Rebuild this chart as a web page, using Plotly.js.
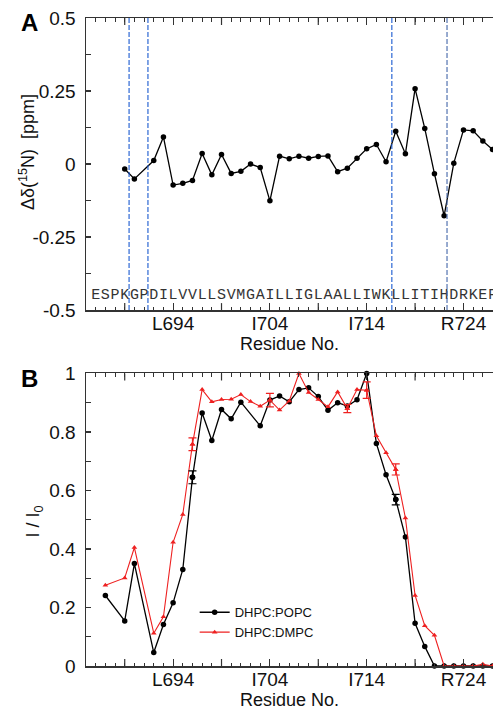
<!DOCTYPE html>
<html>
<head>
<meta charset="utf-8">
<script src="https://cdn.plot.ly/plotly-3.0.1.min.js"></script>
<style>
html,body{margin:0;padding:0;background:#fff;overflow:hidden;}
#chart{width:493px;height:713px;}
</style>
</head>
<body>
<div id="chart"></div>
<script>
// ---------- Panel A: chemical shift perturbation ----------
const residuesA = [689,690,692,693,694,695,696,697,698,699,700,701,702,703,704,705,706,707,708,709,710,711,712,713,714,715,716,717,718,719,720,721,722,723,724,725,726,727];
const deltaN15 = [-0.017,-0.051,0.012,0.093,-0.072,-0.066,-0.056,0.036,-0.037,0.033,-0.032,-0.025,0.0,-0.012,-0.126,0.027,0.018,0.027,0.020,0.026,0.028,-0.026,-0.014,0.020,0.052,0.067,0.008,0.112,0.035,0.258,0.122,-0.033,-0.177,0.003,0.117,0.114,0.079,0.050];

// sequence shown along the bottom of panel A
const seqStart = 686;
const sequence = "ESPKGPDILVVLLSVMGAILLIGLAALLIWKLLITIHDRKEF".split("");
const seqResidues = sequence.map((_, i) => seqStart + i);

// boundaries marked with dashed lines
const boundaries = [689.45, 691.4, 716.6, 722.3];
const boundaryColors = ["#1a5ad0", "#1a5ad0", "#1a5ad0", "#4466aa"];

// ---------- Panel B: intensity ratios ----------
const residuesPOPC = [687,689,690,692,693,694,695,696,697,698,699,700,701,703,704,705,706,707,708,709,710,711,712,713,714,715,716,717,718,719,720,721,722,723,724,725,726,727];
const ratioPOPC = [0.241,0.154,0.350,0.046,0.142,0.216,0.330,0.645,0.865,0.771,0.877,0.845,0.902,0.821,0.909,0.923,0.903,0.945,0.951,0.921,0.874,0.900,0.889,0.910,1.0,0.761,0.654,0.569,0.441,0.146,0.067,0,0,0,0,0,0,0];

const residuesDMPC = [687,689,690,692,693,694,695,696,697,698,699,700,701,702,703,704,705,706,707,708,709,710,711,712,713,714,715,716,717,718,719,720,721,722,723,724,725,726,727];
const ratioDMPC = [0.276,0.301,0.405,0.112,0.168,0.423,0.518,0.758,0.945,0.903,0.911,0.912,0.928,0.904,0.888,0.909,0.875,0.906,1.0,0.935,0.911,0.886,0.937,0.880,0.945,0.943,0.787,0.729,0.672,0.506,0.241,0.138,0.105,0,0,0,0,0.006,0];

// error bars (only measured at a few residues)
const errResPOPC = [696,717];
const errValPOPC = [0.645,0.569];
const errPOPC = [0.022,0.018];
const errResDMPC = [696,704,712,714,717];
const errValDMPC = [0.758,0.909,0.880,0.943,0.672];
const errDMPC = [0.022,0.023,0.014,0.028,0.019];

// tick labels
const xTickVals = [694,704,714,724];
const xTickText = ["L694","I704","I714","R724"];
const xUnlabelledMajor = [689,699,709,719];
const yTickValsA = [-0.5,-0.25,0,0.25,0.5];
const yTickTextA = ["-0.5","-0.25","0","0.25","0.5"];
const yTickValsB = [0,0.2,0.4,0.6,0.8,1];
const yTickTextB = ["0","0.2","0.4","0.6","0.8","1"];

const RED = "#ee2020";
const FONT = "Liberation Sans, Arial, Helvetica, sans-serif";
const TICKCOL = "#333";

const traces = [
  {x: residuesA, y: deltaN15, xaxis:"x2", yaxis:"y2", mode:"lines+markers",
   line:{color:"#000", width:1.3}, marker:{color:"#000", size:5.5, symbol:"circle"},
   showlegend:false, cliponaxis:false},
  {x: seqResidues, y: sequence.map(() => -0.45), text: sequence, xaxis:"x2", yaxis:"y2",
   mode:"text", textposition:"middle center",
   textfont:{family:"Liberation Mono, Courier New, monospace", size:15, color:"#333"},
   showlegend:false, cliponaxis:false, hoverinfo:"skip"},
  {x: residuesPOPC, y: ratioPOPC, mode:"lines+markers", name:"DHPC:POPC",
   line:{color:"#000", width:1.3}, marker:{color:"#000", size:5.5, symbol:"circle"},
   cliponaxis:false},
  {x: residuesDMPC, y: ratioDMPC, mode:"lines+markers", name:"DHPC:DMPC",
   line:{color:RED, width:1.1}, marker:{color:RED, size:5, symbol:"triangle-up"},
   cliponaxis:false},
  {x: errResPOPC, y: errValPOPC, mode:"markers", showlegend:false,
   marker:{color:"#000", size:5.5, symbol:"circle"},
   error_y:{type:"data", array:errPOPC, visible:true, color:"#000", thickness:1.2, width:4}},
  {x: errResDMPC, y: errValDMPC, mode:"markers", showlegend:false,
   marker:{color:RED, size:5, symbol:"triangle-up"},
   error_y:{type:"data", array:errDMPC, visible:true, color:RED, thickness:1.2, width:4}}
];

const xCommon = {
  range:[685, 727.05], tickmode:"array", tickvals:xTickVals, ticktext:xTickText,
  ticks:"inside", ticklen:7, tickwidth:1.2, tickcolor:TICKCOL,
  minor:{tickmode:"linear", tick0:0, dtick:1, ticks:"inside", ticklen:3.5, tickwidth:1, tickcolor:TICKCOL},
  showline:true, linecolor:TICKCOL, linewidth:1.5, mirror:"allticks",
  showgrid:false, zeroline:false, fixedrange:true,
  ticklabelstandoff:-4,
  tickfont:{family:FONT, size:19, color:"#111"},
  title:{text:"Residue No.", font:{family:FONT, size:18, color:"#111"}, standoff:4}
};
const yCommon = {
  ticks:"inside", ticklen:5, tickwidth:1.2, tickcolor:TICKCOL,
  showline:true, linecolor:TICKCOL, linewidth:1.5, mirror:false,
  showgrid:false, zeroline:false, fixedrange:true, tickmode:"array",
  ticklabelstandoff:5,
  tickfont:{family:FONT, size:19, color:"#111"}
};

// long unlabelled ticks every 5 residues (bottom and top of each panel)
const majorTickShapes = [];
[["x","y domain"],["x2","y2 domain"]].forEach(([xr, yr]) => {
  xUnlabelledMajor.forEach(v => {
    majorTickShapes.push({type:"line", xref:xr, yref:yr, x0:v, x1:v, ysizemode:"pixel", yanchor:0, y0:0, y1:7,
      line:{color:TICKCOL, width:1.2}});
    majorTickShapes.push({type:"line", xref:xr, yref:yr, x0:v, x1:v, ysizemode:"pixel", yanchor:1, y0:-7, y1:0,
      line:{color:TICKCOL, width:1.2}});
  });
});

const layout = {
  width:493, height:713,
  margin:{l:86, r:0, t:18, b:47.3},
  paper_bgcolor:"#fff", plot_bgcolor:"#fff",
  showlegend:true,
  legend:{x:0.267, y:0.106, xanchor:"left", yanchor:"top", bgcolor:"rgba(0,0,0,0)",
          font:{family:FONT, size:13, color:"#111"}, tracegroupgap:0},
  xaxis: Object.assign({}, xCommon, {anchor:"y"}),
  xaxis2: Object.assign({}, xCommon, {anchor:"y2"}),
  yaxis: Object.assign({}, yCommon, {domain:[0,0.4514], range:[0,1], anchor:"x",
     tickvals:yTickValsB, ticktext:yTickTextB,
     minor:{tickmode:"linear", tick0:0, dtick:0.1, ticks:"inside", ticklen:5, tickwidth:1, tickcolor:TICKCOL}}),
  yaxis2: Object.assign({}, yCommon, {domain:[0.5492,1], range:[-0.5,0.5], anchor:"x2",
     tickvals:yTickValsA, ticktext:yTickTextA,
     minor:{tickmode:"linear", tick0:0, dtick:0.125, ticks:"inside", ticklen:5, tickwidth:1, tickcolor:TICKCOL}}),
  shapes: boundaries.map((b, i) => ({type:"line", xref:"x2", yref:"y2 domain", x0:b, x1:b, y0:0, y1:1,
     line:{color:boundaryColors[i], width:1.1, dash:"5px,2px"}})).concat(majorTickShapes),
  annotations:[
    {text:"<b>A</b>", xref:"paper", yref:"paper", x:-0.1376, y:0.9923, xanchor:"center", yanchor:"middle",
     showarrow:false, font:{family:FONT, size:24, color:"#000"}},
    {text:"<b>B</b>", xref:"paper", yref:"paper", x:-0.1376, y:0.4442, xanchor:"center", yanchor:"middle",
     showarrow:false, font:{family:FONT, size:24, color:"#000"}},
    {text:"Δδ(<sup>15</sup>N)  [ppm]", xref:"paper", yref:"paper", x:-0.145, y:0.7931,
     xanchor:"center", yanchor:"middle", textangle:-90, showarrow:false,
     font:{family:FONT, size:18, color:"#111"}},
    {text:"I / I<sub>0</sub>", xref:"paper", yref:"paper", x:-0.127, y:0.2234,
     xanchor:"center", yanchor:"middle", textangle:-90, showarrow:false,
     font:{family:FONT, size:18, color:"#111"}}
  ]
};

Plotly.newPlot("chart", traces, layout, {staticPlot:true, displayModeBar:false});
</script>
</body>
</html>
